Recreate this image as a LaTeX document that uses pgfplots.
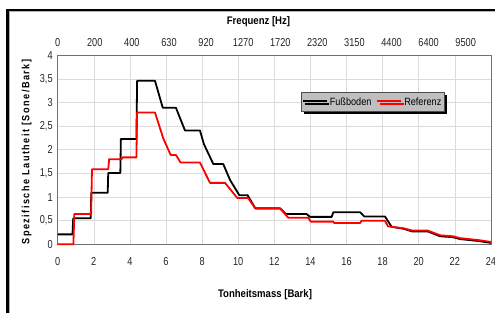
\documentclass[border=0pt]{standalone}
\usepackage{fontspec}
\setmainfont{Liberation Sans}[FakeStretch=0.87]
\newfontfamily\tickfont{Liberation Sans}[FakeStretch=0.8]
\usepackage{pgfplots}
\pgfplotsset{compat=1.18}
\usetikzlibrary{shadows}
\definecolor{gridgray}{HTML}{DCDCDC}
\definecolor{axgray}{HTML}{707070}
\begin{document}
\begin{tikzpicture}
\useasboundingbox (0,0) rectangle (495pt,313pt);
% outer frame
\draw[line width=2.6pt,black] (7.5pt,-2pt) -- (7.5pt,303pt) -- (497pt,303pt);
\draw[line width=0.8pt,gray!60] (9.4pt,-2pt) -- (9.4pt,301.2pt) -- (497pt,301.2pt);
\begin{axis}[
  at={(57.7pt,68.7pt)}, anchor=south west,
  scale only axis, width=433.2pt, height=189pt,
  xmin=0, xmax=24, ymin=0, ymax=4,
  xtick={0,2,...,24}, ytick={0,0.5,...,4},
  major tick length=0pt,
  grid=major, grid style={gridgray, line width=0.6pt},
  axis line style={axgray, line width=0.8pt},
  /pgf/number format/assume math mode=true,
  /pgf/number format/use comma,
  ticklabel style={font=\tickfont\fontsize{11.5}{13}\selectfont, text=black!85},
  xticklabel style={anchor=center, yshift=-17.4pt},
  yticklabel style={anchor=east, xshift=-1.5pt},
  legend columns=2,
  legend style={at={(0.561,0.804)}, anchor=north west,
    fill=gray!50, draw=black!70, line width=0.6pt,
    font=\fontsize{10.5}{12}\selectfont,
    inner xsep=1pt, inner ysep=3pt,
    drop shadow={shadow xshift=2.5pt, shadow yshift=-2.5pt, fill=black, opacity=1},
    /tikz/every even column/.append style={column sep=3pt}},
  legend image code/.code={\draw[#1] (0pt,1pt) -- (24pt,1pt);},
  clip=false,
]
\addplot[black, line width=1.8pt, line join=round] coordinates {
(0,0.21) (0.82,0.21) (0.86,0.55) (1.83,0.55) (1.86,1.09) (2.77,1.09) (2.80,1.51)
(3.47,1.51) (3.50,2.23) (4.36,2.23) (4.40,3.46) (5.39,3.46) (5.82,2.89) (6.55,2.89)
(7.05,2.41) (7.88,2.41) (8.10,2.12) (8.62,1.70) (9.17,1.70) (9.55,1.36) (10.06,1.04)
(10.52,1.04) (10.95,0.76) (12.32,0.76) (12.65,0.64) (13.79,0.64) (13.98,0.58)
(15.18,0.58) (15.27,0.68) (16.75,0.68) (16.99,0.59) (18.13,0.59) (18.50,0.37)
(19.15,0.33) (19.65,0.27) (20.53,0.27) (21.18,0.17) (21.90,0.15) (22.30,0.11)
(23.30,0.07) (24,0.03)
};
\addlegendentry{Fußboden}
\addplot[red, line width=1.8pt, line join=round] coordinates {
(0,0) (0.87,0) (0.92,0.64) (1.85,0.64) (1.90,1.59) (2.80,1.59) (2.85,1.80)
(3.54,1.80) (3.58,1.84) (4.36,1.84) (4.40,2.79) (5.39,2.79) (5.85,2.24) (6.26,1.89)
(6.55,1.89) (6.81,1.73) (7.88,1.73) (8.44,1.30) (9.27,1.30) (9.95,0.98) (10.55,0.98)
(10.95,0.76) (12.32,0.76) (12.78,0.56) (13.88,0.56) (14.02,0.48) (15.27,0.48)
(15.32,0.45) (16.75,0.45) (16.84,0.50) (18.13,0.50) (18.30,0.38) (19.15,0.34)
(19.65,0.29) (20.50,0.29) (21.20,0.19) (21.90,0.17) (22.30,0.13) (23.30,0.09)
(24,0.05)
};
\addlegendentry{Referenz}
\end{axis}
\begin{axis}[
  at={(57.7pt,68.7pt)}, anchor=south west,
  scale only axis, width=433.2pt, height=189pt,
  xmin=0, xmax=24, ymin=0, ymax=4,
  axis x line*=top, hide y axis,
  axis line style={axgray, line width=0.8pt},
  major tick length=0pt,
  xtick={0,2.055,4.11,6.165,8.22,10.275,12.33,14.385,16.44,18.495,20.55,22.605},
  xticklabels={0,200,400,630,920,1270,1720,2320,3150,4400,6400,9500},
  ticklabel style={font=\tickfont\fontsize{11.5}{13}\selectfont, text=black!85},
  xticklabel style={anchor=center, yshift=12.6pt},
]
\addplot[draw=none] coordinates {(0,0)};
\end{axis}
\node[font=\bfseries\fontsize{11}{13}\selectfont] at (258.5pt,291pt) {Frequenz [Hz]};
\node[font=\bfseries\fontsize{11}{13}\selectfont] at (265pt,18pt) {Tonheitsmass [Bark]};
\node[rotate=90, font=\bfseries\fontsize{10.5}{12}\selectfont\addfontfeature{LetterSpace=14}] at (26.7pt,161pt) {Spezifische Lautheit [Sone/Bark]};
\end{tikzpicture}
\end{document}
